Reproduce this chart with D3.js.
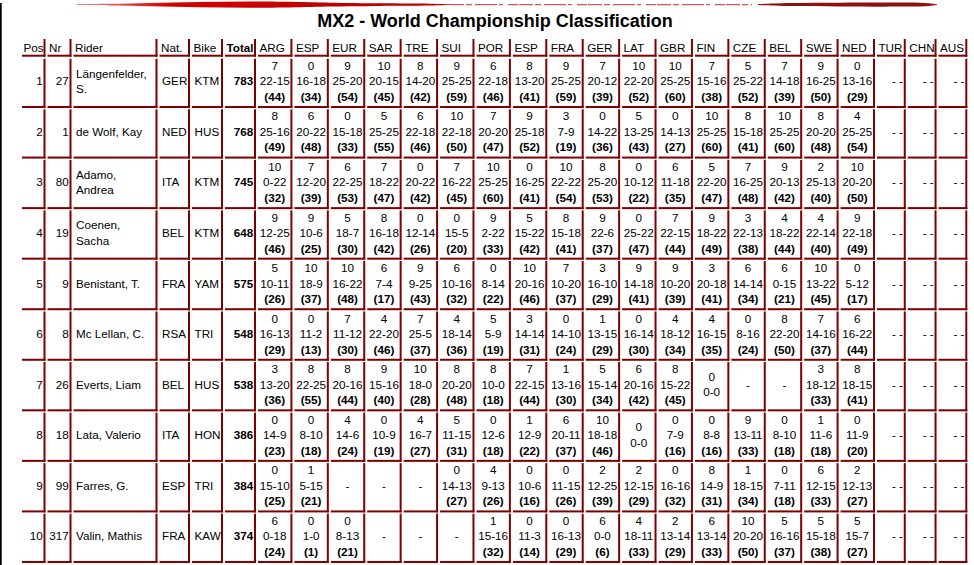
<!DOCTYPE html>
<html>
<head>
<meta charset="utf-8">
<script src="https://cdn.jsdelivr.net/npm/d3@7"></script>
<style>
  body { margin: 0; background: #fff; }
  svg { display: block; font-family: Arial, "Liberation Sans", sans-serif; }
</style>
</head>
<body>
<svg id="table" width="974" height="565"></svg>
<script>
const title = "MX2 - World Championship Classification";
const headers = ["Pos", "Nr", "Rider", "Nat.", "Bike", "Total"];
const rounds = ["ARG", "ESP", "EUR", "SAR", "TRE", "SUI", "POR", "ESP", "FRA",
                "GER", "LAT", "GBR", "FIN", "CZE", "BEL", "SWE", "NED"];
const futureRounds = ["TUR", "CHN", "AUS"];

const positions = [1, 2, 3, 4, 5, 6, 7, 8, 9, 10];
const numbers = [27, 1, 80, 19, 9, 8, 26, 18, 99, 317];
const riders = ["Längenfelder, S.", "de Wolf, Kay", "Adamo, Andrea", "Coenen, Sacha",
                "Benistant, T.", "Mc Lellan, C.", "Everts, Liam", "Lata, Valerio",
                "Farres, G.", "Valin, Mathis"];
const nations = ["GER", "NED", "ITA", "BEL", "FRA", "RSA", "BEL", "ITA", "ESP", "FRA"];
const bikes = ["KTM", "HUS", "KTM", "KTM", "YAM", "TRI", "HUS", "HON", "TRI", "KAW"];
const totals = [783, 768, 745, 648, 575, 548, 538, 386, 384, 374];

// each cell: "bonus moto1-moto2 points", "0 0-0" or "-" when absent
const results = [
  ["7 22-15 44", "0 16-18 34", "9 25-20 54", "10 20-15 45", "8 14-20 42", "9 25-25 59", "6 22-18 46", "8 13-20 41", "9 25-25 59",
   "7 20-12 39", "10 22-20 52", "10 25-25 60", "7 15-16 38", "5 25-22 52", "7 14-18 39", "9 16-25 50", "0 13-16 29"],
  ["8 25-16 49", "6 20-22 48", "0 15-18 33", "5 25-25 55", "6 22-18 46", "10 22-18 50", "7 20-20 47", "9 25-18 52", "3 7-9 19",
   "0 14-22 36", "5 13-25 43", "0 14-13 27", "10 25-25 60", "8 15-18 41", "10 25-25 60", "8 20-20 48", "4 25-25 54"],
  ["10 0-22 32", "7 12-20 39", "6 22-25 53", "7 18-22 47", "0 20-22 42", "7 16-22 45", "10 25-25 60", "0 16-25 41", "10 22-22 54",
   "8 25-20 53", "0 10-12 22", "6 11-18 35", "5 22-20 47", "7 16-25 48", "9 20-13 42", "2 25-13 40", "10 20-20 50"],
  ["9 12-25 46", "9 10-6 25", "5 18-7 30", "8 16-18 42", "0 12-14 26", "0 15-5 20", "9 2-22 33", "5 15-22 42", "8 15-18 41",
   "9 22-6 37", "0 25-22 47", "7 22-15 44", "9 18-22 49", "3 22-13 38", "4 18-22 44", "4 22-14 40", "9 22-18 49"],
  ["5 10-11 26", "10 18-9 37", "10 16-22 48", "6 7-4 17", "9 9-25 43", "6 10-16 32", "0 8-14 22", "10 20-16 46", "7 10-20 37",
   "3 16-10 29", "9 14-18 41", "9 10-20 39", "3 20-18 41", "6 14-14 34", "6 0-15 21", "10 13-22 45", "0 5-12 17"],
  ["0 16-13 29", "0 11-2 13", "7 11-12 30", "4 22-20 46", "7 25-5 37", "4 18-14 36", "5 5-9 19", "3 14-14 31", "0 14-10 24",
   "1 13-15 29", "0 16-14 30", "4 18-12 34", "4 16-15 35", "0 8-16 24", "8 22-20 50", "7 14-16 37", "6 16-22 44"],
  ["3 13-20 36", "8 22-25 55", "8 20-16 44", "9 15-16 40", "10 18-0 28", "8 20-20 48", "8 10-0 18", "7 22-15 44", "1 13-16 30",
   "5 15-14 34", "6 20-16 42", "8 15-22 45", "0 0-0", "-", "-", "3 18-12 33", "8 18-15 41"],
  ["0 14-9 23", "0 8-10 18", "4 14-6 24", "0 10-9 19", "4 16-7 27", "5 11-15 31", "0 12-6 18", "1 12-9 22", "6 20-11 37",
   "10 18-18 46", "0 0-0", "0 7-9 16", "0 8-8 16", "9 13-11 33", "0 8-10 18", "1 11-6 18", "0 11-9 20"],
  ["0 15-10 25", "1 5-15 21", "-", "-", "-", "0 14-13 27", "4 9-13 26", "0 10-6 16", "0 11-15 26",
   "2 12-25 39", "2 12-15 29", "0 16-16 32", "8 14-9 31", "1 18-15 34", "0 7-11 18", "6 12-15 33", "2 12-13 27"],
  ["6 0-18 24", "0 1-0 1", "0 8-13 21", "-", "-", "-", "1 15-16 32", "0 11-3 14", "0 16-13 29",
   "6 0-0 6", "4 18-11 33", "2 13-14 29", "6 13-14 33", "10 20-20 50", "5 16-16 37", "5 15-18 38", "5 15-7 27"]
];

// --- layout ---
const svg = d3.select("#table");
const borderColor = "#800000";
const fontSize = 11.7;
const lineStep = 15.5;
const gap = 2;
const tableLeft = 22;
const fixedWidths = [23.5, 24, 84, 30.5, 31, 31];
const fixedLeft = d3.cumsum([tableLeft, ...fixedWidths.map(w => w + gap)]).slice(0, fixedWidths.length);

const xRace = d3.scaleBand().domain(d3.range(rounds.length))
  .range([257, 876]).paddingInner(0.055).paddingOuter(0.0275);
const xFuture = d3.scaleBand().domain(d3.range(futureRounds.length))
  .range([876, 968.3]).paddingInner(0.065).paddingOuter(0.0325);
const yRow = d3.scaleBand().domain(d3.range(positions.length))
  .range([58.1, 563.6]).paddingInner(0.025).paddingOuter(0.0125);
const headerTop = 39, headerHeight = 17.7;

const columns = [
  ...headers.map((h, i) => ({ label: h, key: i, left: fixedLeft[i], width: fixedWidths[i] })),
  ...rounds.map((h, i) => ({ label: h, key: "race", idx: i, left: xRace(i), width: xRace.bandwidth() })),
  ...futureRounds.map((h, i) => ({ label: h, key: "future", idx: i, left: xFuture(i), width: xFuture.bandwidth() }))
];

// decorative brush stroke on top and the dark page edge
const swooshLeft = [[77, 0.5], [110, 0.8], [150, 1.6], [200, 2.6], [250, 3.1], [300, 2.6], [330, 1.9], [380, 1.3], [430, 0.9], [450, 0.4]];
const swooshRight = [[758, 0.5], [790, 1.5], [840, 1.9], [900, 2.0], [925, 1.6], [937, 0.3]];
const swooshArea = d3.area().x(d => d[0]).y0(d => 4.6 - d[1]).y1(d => 4.6 + d[1]).curve(d3.curveCatmullRom);
const grad = svg.append("defs").append("linearGradient").attr("id", "brush")
  .attr("x1", "0").attr("x2", "1");
grad.append("stop").attr("offset", "0").attr("stop-color", "#e88");
grad.append("stop").attr("offset", "0.25").attr("stop-color", "#d40000");
grad.append("stop").attr("offset", "1").attr("stop-color", "#b00000");
svg.append("path").attr("d", swooshArea(swooshLeft)).attr("fill", "url(#brush)");
svg.append("line").attr("x1", 450).attr("x2", 752).attr("y1", 4.6).attr("y2", 4.6)
  .attr("stroke", "#c23030").attr("stroke-width", 1.4).attr("stroke-dasharray", "14 2 6 3 22 2 4 5 10 1")
  .attr("opacity", 0.8);
svg.append("path").attr("d", swooshArea(swooshRight)).attr("fill", "#8e1010");
svg.append("rect").attr("x", 0).attr("y", 3).attr("width", 1.7).attr("height", 562).attr("fill", "#000");

svg.append("text").attr("x", 495).attr("y", 27).attr("text-anchor", "middle")
  .attr("font-size", 18).attr("font-weight", "bold").attr("fill", "#000").text(title);

function cellBorders(g, left, top, w, h) {
  g.append("rect").attr("x", left + w - 2).attr("y", top).attr("width", 2).attr("height", h).attr("fill", borderColor);
  g.append("rect").attr("x", left).attr("y", top + h - 2).attr("width", w).attr("height", 2).attr("fill", borderColor);
}

// header row
const head = svg.append("g").attr("font-size", fontSize);
columns.forEach(c => {
  cellBorders(head, c.left, headerTop, c.width, headerHeight);
  head.append("text").attr("x", c.left + 1.5).attr("y", headerTop + 13)
    .attr("font-weight", c.label === "Total" ? "bold" : null).text(c.label);
});

function linesAt(g, x, anchor, cy, lines, boldIdx) {
  const n = lines.length;
  lines.forEach((t, i) => {
    g.append("text").attr("x", x).attr("y", cy + 3 + (i - (n - 1) / 2) * lineStep)
      .attr("text-anchor", anchor).attr("font-weight", i === boldIdx ? "bold" : null).text(t);
  });
}

function wrapWords(text, maxWidth) {
  const probe = svg.append("text").attr("font-size", fontSize);
  const words = text.split(" ");
  const lines = [];
  let cur = "";
  words.forEach(w => {
    const test = cur ? cur + " " + w : w;
    probe.text(test);
    if (cur && probe.node().getComputedTextLength() > maxWidth) { lines.push(cur); cur = w; }
    else cur = test;
  });
  lines.push(cur);
  probe.remove();
  return lines;
}

const rows = positions.map((p, i) => ({
  pos: p, nr: numbers[i], rider: riders[i], nat: nations[i], bike: bikes[i], total: totals[i], res: results[i]
}));

svg.append("g").attr("font-size", fontSize).attr("fill", "#000")
  .selectAll("g").data(rows).join("g")
  .each(function (d, r) {
    const g = d3.select(this);
    const top = yRow(r), h = yRow.bandwidth(), cy = top + h / 2 - 1;
    columns.forEach(c => {
      cellBorders(g, c.left, top, c.width, h);
      const right = c.left + c.width - 2.8;
      const mid = c.left + (c.width - 1) / 2;
      if (c.key === 0) linesAt(g, right, "end", cy, [String(d.pos)]);
      else if (c.key === 1) linesAt(g, right, "end", cy, [String(d.nr)]);
      else if (c.key === 2) linesAt(g, c.left + 2.5, "start", cy, wrapWords(d.rider, 76));
      else if (c.key === 3) linesAt(g, c.left + 2.5, "start", cy, [d.nat]);
      else if (c.key === 4) linesAt(g, c.left + 2.5, "start", cy, [d.bike]);
      else if (c.key === 5) linesAt(g, right, "end", cy, [String(d.total)], 0);
      else if (c.key === "future") linesAt(g, right, "end", cy, ["- -"]);
      else {
        const cell = d.res[c.idx];
        if (cell === "-") { linesAt(g, mid, "middle", cy, ["-"]); return; }
        const parts = cell.split(" ");
        const lines = [parts[0], parts[1]];
        if (parts.length > 2) lines.push("(" + parts[2] + ")");
        linesAt(g, mid, "middle", cy, lines, 2);
      }
    });
  });
</script>
</body>
</html>
